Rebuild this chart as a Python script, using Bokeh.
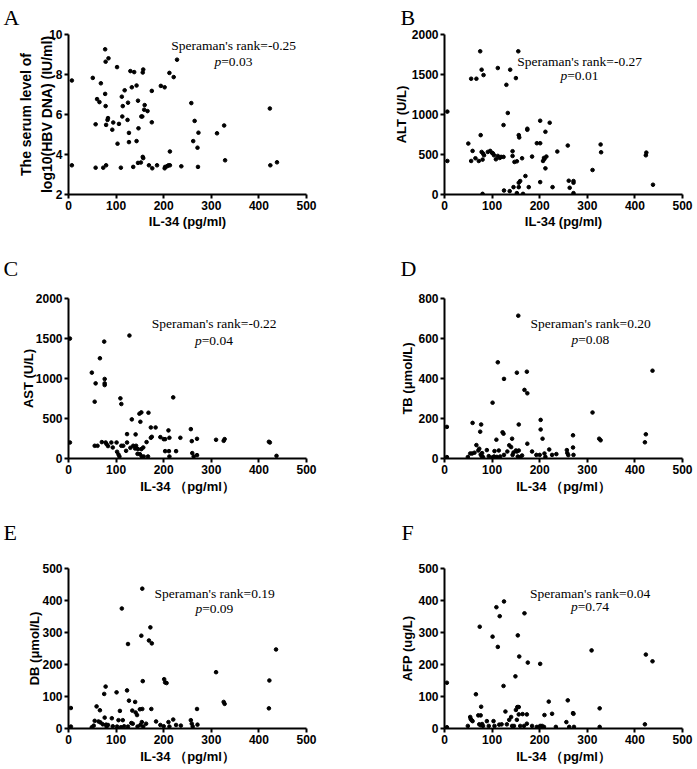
from bokeh.plotting import figure
from bokeh.layouts import column, row
from bokeh.models import ColumnDataSource, Label, FixedTicker
from bokeh.embed import file_html
from bokeh.resources import INLINE

# A: HBV DNA vs IL-34
il34_a = [7, 7, 51, 57, 57, 60, 65, 68, 73, 77, 77, 78, 78, 79, 79, 82, 83, 84, 92, 94,
          102, 103, 106, 110, 112, 114, 113, 118, 124, 125, 127, 127, 130, 133, 136, 138, 143, 143, 146, 147,
          146, 153, 156, 157, 156, 157, 155, 152, 160, 159, 166, 169, 175, 175, 176, 186, 194, 202, 202, 203,
          207, 210, 213, 212, 213, 221, 228, 237, 258, 262, 265, 271, 272, 273, 312, 327, 329, 423, 424, 438]
hbv_a = [7.7, 3.46, 7.83, 3.34, 5.51, 6.77, 6.62, 7.56, 3.34, 9.26, 7.03, 6.42, 8.64, 3.46, 5.48, 5.73, 5.82, 8.81, 5.24, 5.6,
         8.37, 4.54, 5.53, 3.34, 6.89, 6.42, 5.9, 7.21, 5.73, 6.59, 5.08, 4.62, 8.17, 7.36, 3.38, 8.12, 7.45, 4.67, 6.69, 5.31,
         3.58, 5.9, 8.1, 8.25, 3.88, 3.82, 5.9, 3.6, 6.47, 6.24, 6.17, 3.46, 7.18, 5.61, 3.31, 3.46, 7.43, 7.36, 3.31, 3.38,
         3.41, 3.46, 4.15, 8.08, 3.46, 7.87, 8.74, 3.41, 6.57, 4.67, 5.68, 4.34, 3.38, 5.09, 5.06, 5.45, 3.71, 6.3, 3.46, 3.61]

# B: ALT
il34_b = [6, 6, 50, 56, 56, 59, 65, 67, 72, 75, 76, 78, 78, 80, 81, 82, 80, 83, 91, 96,
          100, 102, 104, 108, 112, 112, 116, 119, 124, 124, 125, 130, 133, 137, 138, 143, 143, 145, 147, 150,
          152, 152, 155, 156, 157, 156, 156, 159, 163, 165, 170, 174, 174, 177, 184, 194, 201, 201, 201, 207,
          210, 209, 212, 212, 214, 221, 227, 237, 259, 261, 263, 271, 271, 271, 311, 328, 329, 423, 424, 438]
alt_b = [1036, 419, 637, 1447, 419, 545, 453, 1447, 419, 1790, 742, 1560, 532, 436, 512, 1493, 8, 490, 532, 545,
         520, 512, 490, 440, 1581, 482, 457, 470, 868, 470, 50, 1371, 1019, 42, 1560, 541, 482, 92, 407, 1455,
         415, 17, 1790, 742, 713, 147, 92, 168, 453, 8, 231, 809, 822, 92, 474, 641, 922, 641, 155, 419,
         445, 457, 784, 327, 474, 897, 92, 537, 612, 172, 84, 147, 168, 17, 306, 625, 528, 490, 524, 122]

# C: AST
il34_c = [3, 3, 49, 55, 57, 55, 61, 66, 70, 75, 76, 76, 76, 78, 80, 83, 90, 93, 101, 102,
          105, 107, 109, 111, 111, 115, 121, 123, 123, 128, 130, 133, 136, 140, 141, 142, 145, 146, 149, 150,
          151, 153, 153, 154, 156, 157, 158, 164, 167, 168, 173, 173, 175, 183, 193, 200, 203, 203, 211, 210,
          212, 212, 220, 226, 235, 257, 259, 260, 263, 270, 270, 310, 326, 328, 421, 423, 437]
ast_c = [1499, 200, 1073, 710, 939, 159, 159, 1253, 205, 1461, 994, 939, 918, 200, 180, 155, 200, 138, 200, 84,
         50, 25, 752, 681, 159, 159, 96, 305, 200, 1537, 134, 489, 159, 125, 301, 159, 58, 117, 560, 54,
         459, 576, 117, 25, 17, 138, 25, 205, 25, 572, 259, 388, 271, 388, 267, 242, 92, 242, 92, 351,
         259, 25, 764, 92, 259, 367, 217, 67, 25, 246, 42, 234, 221, 242, 209, 200, 33]

# D: TB
il34_d = [5, 5, 49, 54, 58, 59, 63, 67, 71, 75, 77, 73, 76, 78, 79, 81, 89, 93, 100, 101,
          104, 105, 109, 110, 112, 114, 117, 122, 124, 125, 125, 132, 136, 140, 142, 143, 145, 150, 152, 152,
          154, 155, 156, 156, 159, 163, 168, 173, 174, 174, 184, 193, 200, 202, 202, 206, 210, 212, 220, 226,
          235, 257, 258, 260, 270, 270, 271, 311, 325, 328, 421, 423, 437]
tb_d = [158, 7, 7, 25, 25, 178, 29, 67, 40, 134, 170, 49, 20, 12, 27, 7, 42, 12, 5, 279,
        10, 37, 94, 8, 481, 40, 10, 131, 124, 398, 18, 35, 66, 57, 99, 18, 30, 40, 35, 429,
        10, 714, 40, 170, 7, 15, 343, 434, 326, 74, 35, 18, 18, 193, 145, 99, 25, 8, 45, 18,
        22, 42, 27, 17, 55, 116, 18, 230, 99, 91, 81, 121, 439]

# E: DB
il34_e = [5, 5, 49, 53, 55, 59, 63, 66, 67, 72, 75, 78, 76, 79, 80, 83, 91, 93, 101, 102,
          105, 108, 110, 112, 114, 117, 123, 125, 127, 125, 132, 134, 135, 140, 141, 144, 145, 150, 151, 153,
          154, 155, 155, 156, 157, 163, 169, 172, 175, 174, 184, 193, 201, 203, 206, 200, 210, 212, 220, 226,
          236, 257, 259, 261, 270, 271, 310, 326, 328, 421, 422, 436]
db_e = [64, 6, 4, 9, 24, 69, 22, 57, 19, 13, 108, 131, 34, 12, 6, 11, 32, 7, 113, 6,
        26, 55, 4, 375, 26, 7, 119, 264, 87, 6, 17, 56, 15, 83, 50, 42, 6, 60, 11, 290,
        20, 437, 61, 148, 6, 15, 275, 316, 266, 61, 22, 11, 154, 144, 142, 7, 20, 6, 28, 11,
        9, 26, 15, 6, 61, 12, 176, 83, 77, 63, 150, 247]

# F: AFP
il34_f = [5, 5, 49, 54, 55, 57, 59, 66, 71, 74, 76, 77, 73, 76, 79, 81, 89, 93, 101, 103,
          105, 109, 112, 116, 115, 120, 125, 124, 128, 131, 136, 140, 142, 146, 149, 150, 152, 153, 154, 156,
          157, 156, 159, 164, 168, 167, 173, 175, 173, 184, 194, 201, 201, 205, 209, 210, 219, 226, 234, 256,
          259, 262, 270, 271, 272, 309, 326, 326, 421, 423, 437]
afp_f = [143, 4, 8, 36, 30, 26, 23, 107, 41, 318, 41, 68, 13, 10, 14, 8, 23, 8, 287, 23,
         8, 379, 255, 351, 12, 13, 397, 133, 53, 13, 27, 36, 8, 8, 163, 58, 27, 67, 291, 67,
         225, 44, 8, 45, 360, 8, 44, 206, 15, 8, 5, 202, 8, 8, 5, 42, 84, 46, 5, 20,
         88, 5, 48, 46, 5, 244, 63, 5, 13, 231, 210]

x_ticks = [0, 100, 200, 300, 400, 500]
ranks = ["-0.25", "-0.27", "-0.22", "0.20", "0.19", "0.04"]
pvals = ["0.03", "0.01", "0.04", "0.08", "0.09", "0.74"]

SANS = "Liberation Sans"
SERIF = "Liberation Serif"
FW, FH = 238, 160


def panel(letter, xs, ys, xlabel, ylabel, yr, yticks, rank, pval, left, right, top, bottom,
          letter_off, letter_standoff, txt_x, txt_y1, txt_y2,
          ylab_size="13px", ylab_standoff=0, xlab_standoff=1):
    p = figure(frame_width=FW, frame_height=FH, x_range=(0, 500), y_range=yr,
               min_border_left=left, min_border_right=right,
               min_border_top=top, min_border_bottom=bottom,
               output_backend="svg", toolbar_location=None)
    p.outline_line_color = None
    p.grid.visible = False

    # panel letter as the title, pushed out to the left of the frame
    p.title.text = letter
    p.title.align = "left"
    p.title.vertical_align = "top"
    p.title.offset = letter_off
    p.title.standoff = letter_standoff
    p.title.text_font = SERIF
    p.title.text_font_size = "22px"
    p.title.text_font_style = "normal"
    p.title.text_color = "black"

    src = ColumnDataSource(dict(x=xs, y=ys))
    p.scatter("x", "y", source=src, size=3.6, color="black")

    for ax in (p.xaxis[0], p.yaxis[0]):
        ax.axis_line_width = 2
        ax.major_tick_line_width = 2
        ax.major_tick_in = 0
        ax.major_tick_out = 4
        ax.minor_tick_line_color = None
        ax.major_label_text_font = SANS
        ax.major_label_text_font_style = "bold"
        ax.major_label_text_font_size = "12px"
        ax.major_label_text_color = "black"
        ax.major_label_standoff = 2
        ax.axis_label_text_font = SANS
        ax.axis_label_text_font_style = "bold"
        ax.axis_label_text_font_size = "13px"
        ax.axis_label_text_color = "black"
    p.xaxis.axis_label_standoff = xlab_standoff
    p.yaxis.axis_label_standoff = ylab_standoff
    p.yaxis.axis_label_text_font_size = ylab_size
    p.yaxis.axis_label_text_line_height = 1.35
    p.xaxis.ticker = FixedTicker(ticks=x_ticks)
    p.yaxis.ticker = FixedTicker(ticks=yticks)
    p.xaxis.axis_label = xlabel
    p.yaxis.axis_label = ylabel

    p.add_layout(Label(x=txt_x, y=txt_y1, text="Speraman's rank=" + rank,
                       text_font=SERIF, text_font_size="13.5px", text_color="black",
                       text_align="center", text_baseline="middle"))
    p.add_layout(Label(x=txt_x, y=txt_y2, x_offset=-12.5, text="p",
                       text_font=SERIF, text_font_size="13.5px", text_font_style="italic",
                       text_color="black", text_align="right", text_baseline="middle"))
    p.add_layout(Label(x=txt_x, y=txt_y2, x_offset=-12.5, text="=" + pval,
                       text_font=SERIF, text_font_size="13.5px", text_color="black",
                       text_align="left", text_baseline="middle"))
    return p


xl1 = "IL-34 (pg/ml)"
xl2 = "IL-34 （pg/ml）"

pa = panel("A", il34_a, hbv_a, xl1, "The serum level of\nlog10(HBV DNA) (IU/ml)", (2, 10),
           [2, 4, 6, 8, 10], ranks[0], pvals[0], 68, 40, 34, 44, -65, 6, 347, 9.44, 8.64,
           ylab_size="14px", ylab_standoff=-9)
pb = panel("B", il34_b, alt_b, xl1, "ALT (U/L)", (0, 2000),
           [0, 500, 1000, 1500, 2000], ranks[1], pvals[1], 98, 11, 34, 44, -44, 6, 284, 1664, 1488)
pc = panel("C", il34_c, ast_c, xl2, "AST (U/L)", (0, 2000),
           [0, 500, 1000, 1500, 2000], ranks[2], pvals[2], 68, 40, 60, 38, -65, 32, 306, 1686, 1478,
           ylab_standoff=-3, xlab_standoff=2)
pd_ = panel("D", il34_d, tb_d, xl2, "TB (μmol/L)", (0, 800),
            [0, 200, 400, 600, 800], ranks[3], pvals[3], 98, 11, 60, 38, -44, 32, 307, 674, 597,
            xlab_standoff=2)
pe = panel("E", il34_e, db_e, xl2, "DB (μmol/L)", (0, 500),
           [0, 100, 200, 300, 400, 500], ranks[4], pvals[4], 68, 40, 72, 30, -65, 44, 307, 422, 375,
           ylab_standoff=-3, xlab_standoff=2)
pf = panel("F", il34_f, afp_f, xl2, "AFP (ug/L)", (0, 500),
           [0, 100, 200, 300, 400, 500], ranks[5], pvals[5], 98, 11, 72, 30, -43, 44, 306, 421, 380,
           xlab_standoff=2)

layout = column(row(pa, pb), row(pc, pd_), row(pe, pf))

open("out.html", "w").write(file_html(layout, INLINE))
